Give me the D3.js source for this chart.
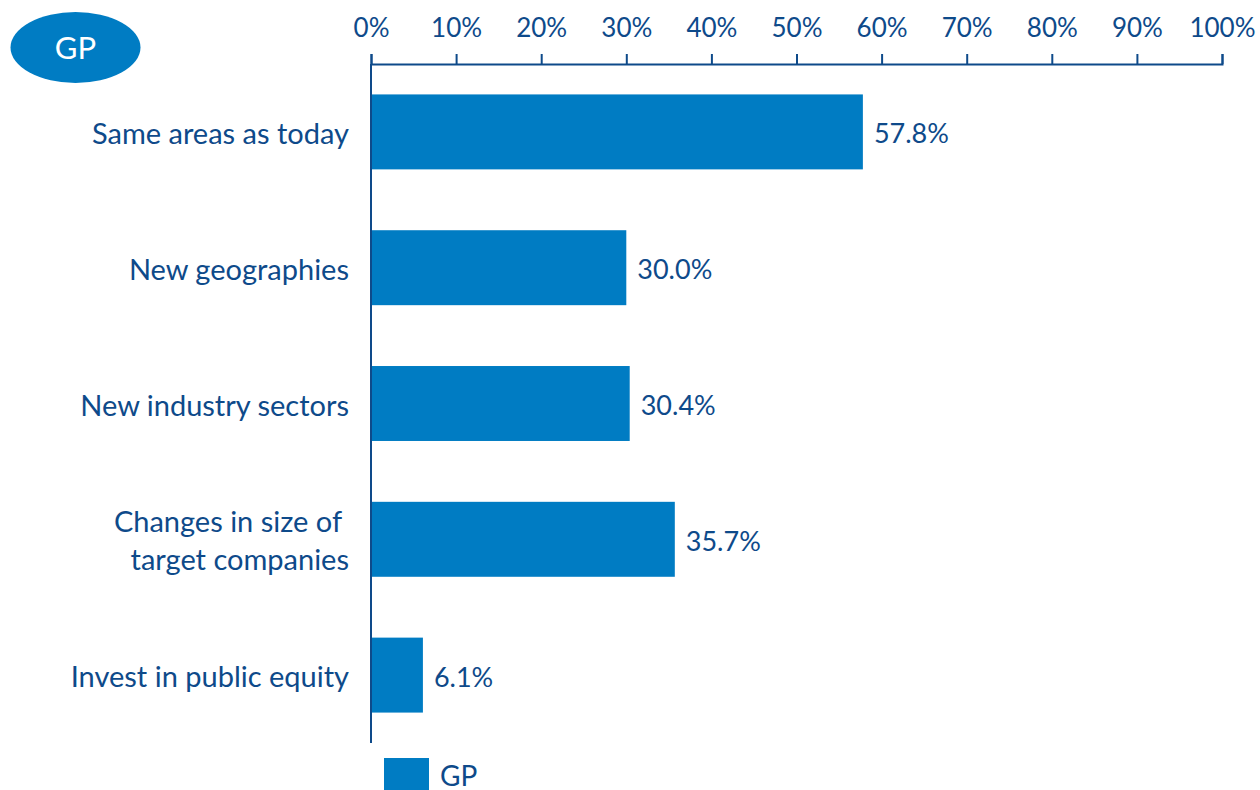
<!DOCTYPE html>
<html><head><meta charset="utf-8">
<script src="https://cdn.jsdelivr.net/npm/d3@7"></script>
<style>body{margin:0;background:#fff}svg{display:block}text{font-family:Lato,"Open Sans",sans-serif}</style>
</head><body>
<svg id="c" width="1260" height="790"></svg>
<script>
const categories = [["Same areas as today"],["New geographies"],["New industry sectors"],["Changes in size of ","target companies"],["Invest in public equity"]];
const values = [57.8, 30.0, 30.4, 35.7, 6.1];
const valueLabels = ["57.8%","30.0%","30.4%","35.7%","6.1%"];
const ticks = [0,10,20,30,40,50,60,70,80,90,100];
const seriesName = "GP";

const barColor = "#007cc3", textColor = "#0e4a8a";
const svg = d3.select("#c");
const x = d3.scaleLinear().domain([0,100]).range([371,1222]);
const y = d3.scaleBand().domain(d3.range(values.length)).range([64,743]).paddingInner(0.448).paddingOuter(0.224);

// badge
svg.append("ellipse").attr("cx",75.5).attr("cy",47.5).attr("rx",65).attr("ry",35.5).attr("fill",barColor);
svg.append("text").attr("x",75.5).attr("y",59).attr("text-anchor","middle").attr("fill","#fff").attr("font-size",31).text(seriesName);

// top axis
const ax = svg.append("g").attr("transform","translate(0,64)")
  .call(d3.axisTop(x).tickValues(ticks).tickFormat(d=>d+"%").tickSize(10).tickSizeOuter(10).tickPadding(17));
ax.select(".domain").attr("stroke",textColor).attr("stroke-width",2);
ax.selectAll(".tick line").attr("stroke",textColor).attr("stroke-width",2);
ax.selectAll(".tick text").attr("fill",textColor).attr("font-size",26).attr("font-family","Lato,sans-serif");

// vertical axis
svg.append("line").attr("x1",x(0)).attr("x2",x(0)).attr("y1",64).attr("y2",743).attr("stroke",textColor).attr("stroke-width",2);

// bars
svg.selectAll("rect.bar").data(values).join("rect").attr("class","bar")
  .attr("x",x(0)+1).attr("y",(d,i)=>y(i)).attr("width",d=>x(d)-x(0)-1).attr("height",y.bandwidth()).attr("fill",barColor);

// value labels
svg.selectAll("text.val").data(values).join("text").attr("class","val")
  .attr("x",d=>x(d)+11).attr("y",(d,i)=>y(i)+y.bandwidth()/2+2).attr("dy","0.35em")
  .attr("fill",textColor).attr("font-size",27).text((d,i)=>valueLabels[i]);

// category labels
categories.forEach((lines,i)=>{
  const cy = y(i)+y.bandwidth()/2+2;
  const lh = 38;
  const t = svg.append("text").attr("text-anchor","end").attr("fill",textColor).attr("font-size",29).attr("xml:space","preserve");
  lines.forEach((l,j)=>{
    t.append("tspan").attr("x",349).attr("y",cy+(j-(lines.length-1)/2)*lh).attr("dy","0.35em").text(l);
  });
});

// legend
svg.append("rect").attr("x",384).attr("y",758).attr("width",45).attr("height",36).attr("fill",barColor);
svg.append("text").attr("x",440).attr("y",786).attr("fill",textColor).attr("font-size",28).text(seriesName);
</script>
</body></html>
